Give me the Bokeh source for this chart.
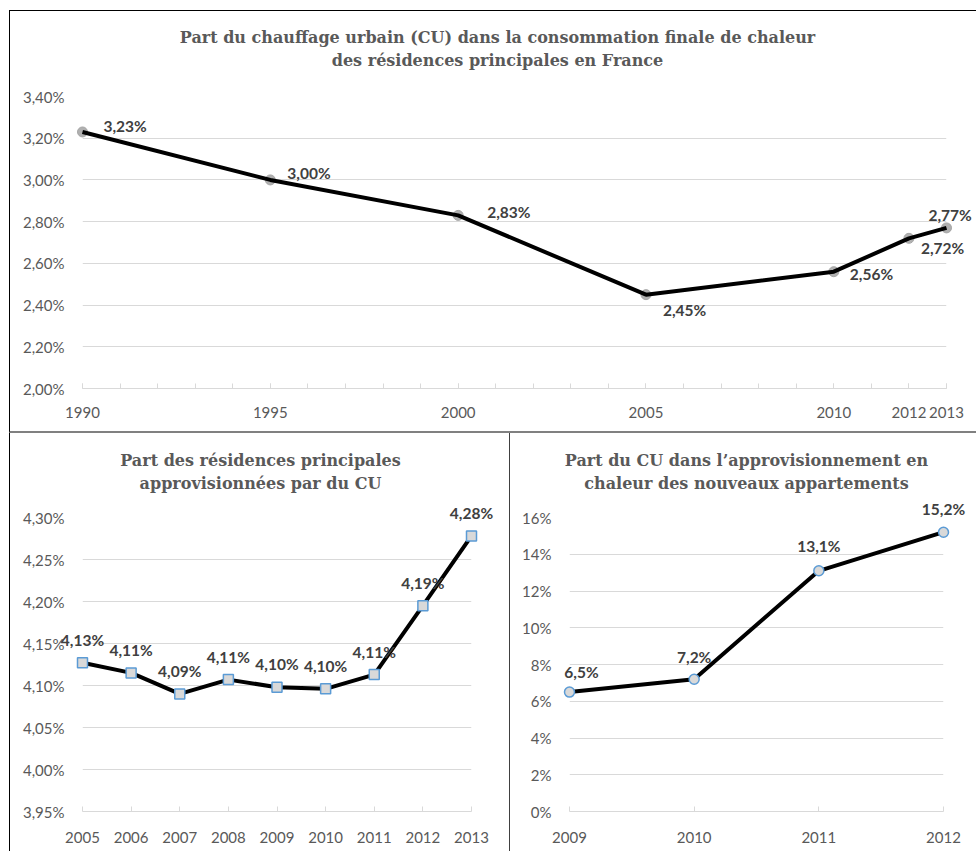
from bokeh.plotting import figure
from bokeh.layouts import column, row
from bokeh.models import ColumnDataSource, FixedTicker, Range1d
from bokeh.core.properties import value
from bokeh.embed import file_html
from bokeh.resources import INLINE

# ---------------- data ----------------
# Top chart: share of district heating (CU) in final heat consumption
top_years = [1990, 1995, 2000, 2005, 2010, 2012, 2013]
top_share = [3.23, 3.00, 2.83, 2.45, 2.56, 2.72, 2.77]
top_labels = ["3,23%", "3,00%", "2,83%", "2,45%", "2,56%", "2,72%", "2,77%"]
top_yticks = [2.0, 2.2, 2.4, 2.6, 2.8, 3.0, 3.2, 3.4]
top_ytick_labels = ["2,00%", "2,20%", "2,40%", "2,60%", "2,80%", "3,00%", "3,20%", "3,40%"]
top_xtick_years = [1990, 1995, 2000, 2005, 2010, 2012, 2013]
top_all_years = list(range(1990, 2014))
top_title = ["Part du chauffage urbain (CU) dans la consommation finale de chaleur",
             "des résidences principales en France"]

# Bottom-left chart: share of main residences supplied by CU
bl_years = [2005, 2006, 2007, 2008, 2009, 2010, 2011, 2012, 2013]
bl_share = [4.127, 4.115, 4.090, 4.107, 4.098, 4.096, 4.113, 4.195, 4.278]
bl_labels = ["4,13%", "4,11%", "4,09%", "4,11%", "4,10%", "4,10%", "4,11%", "4,19%", "4,28%"]
bl_yticks = [3.95, 4.00, 4.05, 4.10, 4.15, 4.20, 4.25, 4.30]
bl_ytick_labels = ["3,95%", "4,00%", "4,05%", "4,10%", "4,15%", "4,20%", "4,25%", "4,30%"]
bl_title = ["Part des résidences principales", "approvisionnées par du CU"]

# Bottom-right chart: share of CU in heat supply of new apartments
br_years = [2009, 2010, 2011, 2012]
br_share = [6.5, 7.2, 13.1, 15.2]
br_labels = ["6,5%", "7,2%", "13,1%", "15,2%"]
br_yticks = [0, 2, 4, 6, 8, 10, 12, 14, 16]
br_ytick_labels = ["0%", "2%", "4%", "6%", "8%", "10%", "12%", "14%", "16%"]
br_title = ["Part du CU dans l\u2019approvisionnement en",
            "chaleur des nouveaux appartements"]

# ---------------- styles ----------------
TICK_FONT = "Lato"
TICK_SIZE = "15px"
TICK_COLOR = "#595959"
GRID_COLOR = "#d9d9d9"
LABEL_COLOR = "#404040"
LABEL_SIZE = "15.5px"
TITLE_FONT = "DejaVu Serif"
TITLE_SIZE = "16px"


def style_axes(p, yticks, ylabels, x_major, x_minor, x_standoff):
    yt = FixedTicker(ticks=yticks)
    p.yaxis.ticker = yt
    p.ygrid.ticker = yt
    p.yaxis.major_label_overrides = {float(t): s for t, s in zip(yticks, ylabels)}
    p.yaxis.axis_line_color = None
    p.yaxis.major_tick_line_color = None
    p.yaxis.minor_tick_line_color = None
    p.yaxis.major_label_standoff = 12
    p.xaxis.ticker = FixedTicker(ticks=x_major, minor_ticks=x_minor)
    p.xaxis.major_label_overrides = {float(t): str(t) for t in x_major}
    p.xaxis.axis_line_color = GRID_COLOR
    p.xaxis.axis_line_width = 1
    p.xaxis.major_tick_line_color = GRID_COLOR
    p.xaxis.minor_tick_line_color = GRID_COLOR
    p.xaxis.major_tick_in = 5
    p.xaxis.major_tick_out = 0
    p.xaxis.minor_tick_in = 5
    p.xaxis.minor_tick_out = 0
    p.xaxis.major_label_standoff = x_standoff
    for ax in (p.xaxis, p.yaxis):
        ax.major_label_text_font = TICK_FONT
        ax.major_label_text_font_size = TICK_SIZE
        ax.major_label_text_color = TICK_COLOR
    p.xgrid.visible = False
    p.ygrid.grid_line_color = GRID_COLOR
    p.ygrid.grid_line_width = 1
    p.outline_line_color = None
    p.background_fill_color = "white"
    p.border_fill_color = "white"


def add_title(p, lines, cx, dy1, dy2):
    # anchored at the frame's top-left corner, shifted by pixel offsets
    n = len(lines)
    src = ColumnDataSource(dict(x=[p.x_range.start] * n, y=[p.y_range.end] * n, t=lines,
                                xo=[cx] * n, yo=[dy1, dy2]))
    p.text(x="x", y="y", text="t", source=src, x_offset="xo", y_offset="yo",
           text_align="center", text_baseline="middle",
           text_font=value(TITLE_FONT), text_font_size=value(TITLE_SIZE),
           text_font_style="bold", text_color=TICK_COLOR, level="overlay")


def add_data_labels(p, xs, ys, texts, xoff, yoff_up, align):
    src = ColumnDataSource(dict(x=xs, y=ys, t=texts, xo=xoff, yo=[-v for v in yoff_up]))
    p.text(x="x", y="y", text="t", source=src, x_offset="xo", y_offset="yo",
           text_align=align, text_baseline="middle",
           text_font=value(TICK_FONT), text_font_size=value(LABEL_SIZE),
           text_font_style="bold", text_color=LABEL_COLOR, level="overlay")


# ---------------- top chart ----------------
p1 = figure(width=967, height=423, x_range=Range1d(1990, 2013), y_range=Range1d(2.0, 3.4),
            output_backend="svg", toolbar_location=None,
            min_border_left=72, min_border_right=31, min_border_top=85, min_border_bottom=46,
            styles={"margin-left": "9px", "margin-top": "10px",
                    "border-left": "1px solid #000000", "border-top": "1px solid #000000",
                    "border-bottom": "2px solid #808080"})
style_axes(p1, top_yticks, top_ytick_labels, top_xtick_years, top_all_years, 18)
s1 = ColumnDataSource(dict(x=top_years, y=top_share))
p1.scatter("x", "y", source=s1, marker="circle", size=10, fill_color="#b0b0b0",
           line_color="#a6a6a6", level="overlay")
p1.line("x", "y", source=s1, line_width=4, line_color="black", level="overlay")
add_data_labels(p1, top_years, top_share, top_labels,
                [21, 17, 29, 17, 16, 12, -18], [6, 7, 3, -15, -2, -10, 13], "left")
add_title(p1, top_title, 415, -59, -36.5)

# ---------------- bottom-left chart ----------------
p2 = figure(width=501, height=418, x_range=Range1d(2005, 2013), y_range=Range1d(3.95, 4.30),
            output_backend="svg", toolbar_location=None,
            min_border_left=72, min_border_right=40, min_border_top=84, min_border_bottom=40,
            styles={"margin-left": "9px", "border-left": "1px solid #000000",
                    "border-right": "1px solid #404040"})
style_axes(p2, bl_yticks, bl_ytick_labels, bl_years, [], 20)
s2 = ColumnDataSource(dict(x=bl_years, y=bl_share))
p2.line("x", "y", source=s2, line_width=4, line_color="black", level="overlay")
p2.scatter("x", "y", source=s2, marker="square", size=10, fill_color="#d9d9d9",
           line_color="#5b9bd5", line_width=1.5, level="overlay")
add_data_labels(p2, bl_years, bl_share, bl_labels, [0] * 9, [23] * 9, "center")
add_title(p2, bl_title, 178, -57, -34)

# ---------------- bottom-right chart ----------------
p3 = figure(width=465, height=418, x_range=Range1d(2009, 2012), y_range=Range1d(0, 16),
            output_backend="svg", toolbar_location=None,
            min_border_left=59, min_border_right=32, min_border_top=84, min_border_bottom=40)
style_axes(p3, br_yticks, br_ytick_labels, br_years, [], 20)
s3 = ColumnDataSource(dict(x=br_years, y=br_share))
p3.line("x", "y", source=s3, line_width=4, line_color="black", level="overlay")
p3.scatter("x", "y", source=s3, marker="circle", size=10, fill_color="#d9d9d9",
           line_color="#5b9bd5", line_width=1.5, level="overlay")
add_data_labels(p3, br_years, br_share, br_labels, [12, 0, 0, 0], [20, 22, 25, 23.5], "center")
add_title(p3, br_title, 177, -57, -34)

layout = column(p1, row(p2, p3, spacing=0), spacing=0)
open("out.html", "w").write(file_html(layout, INLINE))
